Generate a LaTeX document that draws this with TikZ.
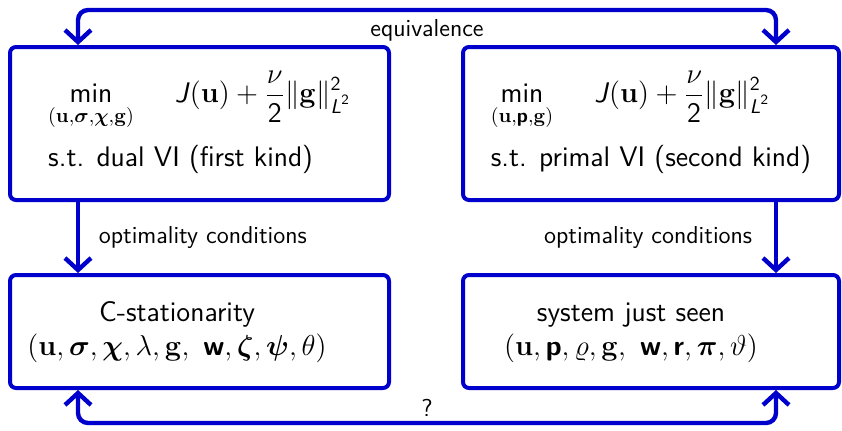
\documentclass[tikz,border=0pt]{standalone}
\usepackage{amsmath}
\usepackage{amssymb}
\usetikzlibrary{arrows.meta}
\definecolor{boxblue}{RGB}{0,0,204}

\begin{document}
\begin{tikzpicture}[x=0.5pt, y=-0.5pt, >={Straight Barb[length=6pt, width=13pt]},
    font=\sffamily\fontsize{14.15}{17}\selectfont,
    box/.style={draw=boxblue, line width=2pt, rounded corners=3pt, inner sep=0pt},
    conn/.style={draw=boxblue, line width=2.2pt, rounded corners=5pt},
    lbl/.style={font=\sffamily\fontsize{12.25}{14}\selectfont}]
  \useasboundingbox (0,0) rectangle (842,430);

  % Probleme oben
  \node[box, minimum width=189.5pt, minimum height=76.5pt] (tl) at (199.5,123.5) {%
    \begin{tabular}{@{}l@{}}
      $\displaystyle\mathop{\textsf{min}}_{(\mathbf{u},\boldsymbol{\sigma},\boldsymbol{\chi},\mathbf{g})}\quad\;
      \textsf{\textit{J}}(\mathbf{u})+\frac{\nu}{\textsf{2}}\|\mathbf{g}\|^{\textsf{2}}_{\textsf{\textit{L}}^{\textsf{2}}}$\\
      \rule{0pt}{18pt}s.t. dual VI (first kind)
    \end{tabular}};
  \node[box, minimum width=188pt, minimum height=76.5pt] (tr) at (651,123.5) {%
    \begin{tabular}{@{}l@{}}
      $\displaystyle\mathop{\textsf{min}}_{(\mathbf{u},\textsf{\bfseries p},\mathbf{g})}\quad\;
      \textsf{\textit{J}}(\mathbf{u})+\frac{\nu}{\textsf{2}}\|\mathbf{g}\|^{\textsf{2}}_{\textsf{\textit{L}}^{\textsf{2}}}$\\
      \rule{0pt}{18pt}s.t. primal VI (second kind)
    \end{tabular}};

  % Systeme unten
  \node[box, minimum width=189.5pt, minimum height=56.5pt] (bl) at (199.5,331.5) {%
    \begin{tabular}{@{}c@{}}
      C-stationarity\\
      $(\mathbf{u},\boldsymbol{\sigma},\boldsymbol{\chi},\lambda,\mathbf{g},\ \textsf{\bfseries w},\boldsymbol{\zeta},\boldsymbol{\psi},\theta)$
    \end{tabular}\hspace*{22.5pt}};
  \node[box, minimum width=188pt, minimum height=56.5pt] (br) at (651,331.5) {%
    \begin{tabular}{@{}c@{}}
      system just seen\\
      $(\mathbf{u},\textsf{\bfseries p},\varrho,\mathbf{g},\ \textsf{\bfseries w},\textsf{\bfseries r},\boldsymbol{\pi},\vartheta)$
    \end{tabular}\hspace*{20pt}};

  % Verbindungen
  \coordinate (lcol) at (78,0);
  \coordinate (rcol) at (776,0);
  \coordinate (upper) at (0,10);
  \coordinate (lower) at (0,423);
  \draw[conn, <->] (tl.north -| lcol) -- (lcol |- upper)
    -- node[lbl, yshift=-10pt] {equivalence} (rcol |- upper) -- (tr.north -| rcol);
  \draw[conn, ->] (tl.south -| lcol) -- node[lbl, anchor=west, xshift=6pt] {optimality conditions} (bl.north -| lcol);
  \draw[conn, ->] (tr.south -| rcol) -- node[lbl, anchor=east, xshift=-7.5pt] {optimality conditions} (br.north -| rcol);
  \draw[conn, <->] (bl.south -| lcol) -- (lcol |- lower)
    -- node[lbl, yshift=7.5pt] {?} (rcol |- lower) -- (br.south -| rcol);
\end{tikzpicture}
\end{document}
